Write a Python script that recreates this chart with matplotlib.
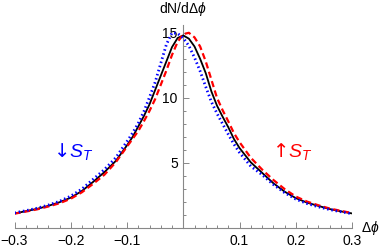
import numpy as np
import matplotlib
matplotlib.use("Agg")
import matplotlib.pyplot as plt
from matplotlib.ticker import MultipleLocator, FixedLocator

plt.rcParams['font.family'] = ['Liberation Sans', 'DejaVu Sans']
plt.rcParams['mathtext.fontset'] = 'custom'
plt.rcParams['mathtext.rm'] = 'Liberation Sans'
plt.rcParams['mathtext.it'] = 'Liberation Sans:italic'

# x grid (Delta phi)
x_vals = [-0.30, -0.28, -0.26, -0.24, -0.22, -0.20, -0.18, -0.16, -0.14, -0.12,
          -0.10, -0.09, -0.08, -0.07, -0.06, -0.05, -0.04, -0.03, -0.02, -0.01,
          0.00, 0.01, 0.02, 0.03, 0.04, 0.05, 0.06, 0.07, 0.08, 0.09,
          0.10, 0.12, 0.14, 0.16, 0.18, 0.20, 0.22, 0.24, 0.26, 0.28, 0.30]

# unpolarized (black, solid)
y_black = [1.12, 1.29, 1.47, 1.70, 1.98, 2.33, 2.85, 3.55, 4.30, 5.15,
           6.35, 7.00, 7.80, 8.60, 9.50, 10.6, 11.7, 12.8, 13.9, 14.6,
           14.8, 14.55, 13.95, 13.0, 11.9, 10.5, 9.4, 8.55, 7.75, 6.85,
           6.15, 5.05, 4.25, 3.45, 2.80, 2.30, 1.95, 1.70, 1.46, 1.28, 1.12]

# S_T up (red, dashed)
y_red = [1.10, 1.26, 1.43, 1.65, 1.90, 2.25, 2.75, 3.40, 4.10, 5.05,
         6.25, 6.85, 7.45, 8.20, 9.00, 9.90, 11.0, 12.1, 13.3, 14.3,
         14.9, 15.0, 14.65, 13.95, 12.8, 11.4, 10.0, 9.05, 8.20, 7.30,
         6.60, 5.40, 4.50, 3.70, 3.00, 2.42, 2.03, 1.75, 1.50, 1.32, 1.15]

# S_T down (blue, dotted)
y_blue = [1.16, 1.33, 1.52, 1.76, 2.05, 2.45, 3.00, 3.75, 4.50, 5.40,
          6.65, 7.30, 8.05, 8.95, 10.05, 11.2, 12.65, 14.1, 15.0, 14.95,
          14.6, 14.0, 13.1, 12.05, 10.85, 9.70, 8.80, 8.00, 7.20, 6.45,
          5.80, 4.75, 4.10, 3.35, 2.72, 2.22, 1.88, 1.63, 1.42, 1.25, 1.10]

x_major = [-0.3, -0.2, -0.1, 0.1, 0.2, 0.3]
x_labels = ['\u22120.3', '\u22120.2', '\u22120.1', '0.1', '0.2', '0.3']
y_major = [5, 10, 15]
y_labels = ['5', '10', '15']

fig = plt.figure(figsize=(3.82, 2.48), dpi=100)
ax = fig.add_axes([14.5/382, 20/248, 337.5/382, 203/248])

ax.plot(x_vals, y_black, color='black', lw=1.3, zorder=3)
ax.plot(x_vals, y_red, color='#ff0000', lw=1.6, dashes=(2.8, 1.6), zorder=4)
ax.plot(x_vals, y_blue, color='#0000ff', lw=2.0, dashes=(0.55, 1.0), zorder=5)

ax.set_xlim(-0.3, 0.3)
ax.set_ylim(0, 15.6)

for s in ['top', 'right']:
    ax.spines[s].set_visible(False)
ax.spines['left'].set_position(('data', 0))
ax.spines['bottom'].set_position(('data', 0))
axis_col = '#888888'
for s in ['left', 'bottom']:
    ax.spines[s].set_color(axis_col)
    ax.spines[s].set_linewidth(0.8)

ax.xaxis.set_major_locator(FixedLocator(x_major))
ax.set_xticklabels(x_labels)
ax.xaxis.set_minor_locator(MultipleLocator(0.02))
ax.yaxis.set_major_locator(FixedLocator(y_major))
ax.set_yticklabels(y_labels)
ax.yaxis.set_minor_locator(MultipleLocator(1))

ax.tick_params(which='both', direction='in', color=axis_col, width=0.7,
               labelsize=10, labelcolor='black')
ax.tick_params(which='major', length=4)
ax.tick_params(which='minor', length=2.3)
ax.tick_params(axis='x', pad=4)
ax.tick_params(axis='y', pad=4)

fig.text(183/382, 1 - 9/248, 'dN/dΔ$\\phi$', ha='center', va='center', fontsize=10)
fig.text(361/382, 1 - 228/248, 'Δ$\\phi$', ha='left', va='center', fontsize=10)

ax.text(-0.196, 5.9, '\u2193$S_T$', color='#0000ff', fontsize=14, ha='center', va='center',
        family=['DejaVu Sans'])
ax.text(0.194, 5.9, '\u2191$S_T$', color='#ff0000', fontsize=14, ha='center', va='center',
        family=['DejaVu Sans'])

fig.savefig('out.png', dpi=100)
